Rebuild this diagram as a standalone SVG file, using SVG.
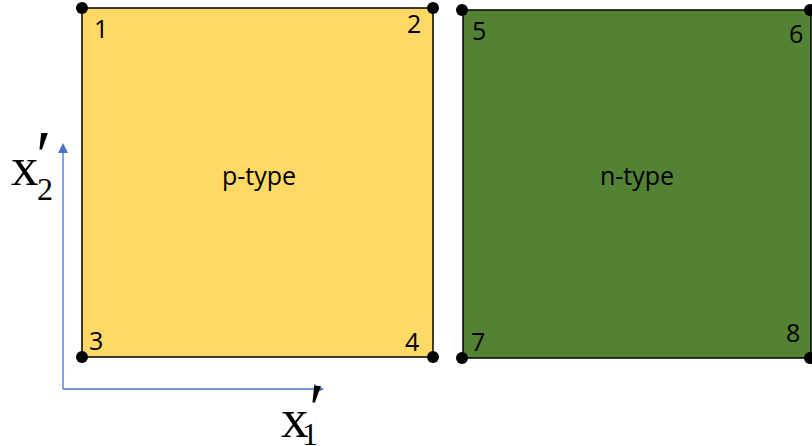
<svg xmlns="http://www.w3.org/2000/svg" width="812" height="446" viewBox="0 0 812 446">
<defs>
<style>
.lbl{font-family:"Open Sans","Liberation Sans",sans-serif;font-size:25px;fill:#000}
.ax{font-family:"Liberation Serif",serif;fill:#000}
.dot{fill:#000}
</style>
<marker id="ah" markerWidth="10" markerHeight="10" refX="8" refY="5" orient="auto" markerUnits="userSpaceOnUse">
<path d="M0,0 L10,5 L0,10 Z" fill="#4472C4"/>
</marker>
</defs>
<rect width="812" height="446" fill="#fff"/>
<g id="ptype">
<rect x="82" y="8" width="351" height="349" fill="#FFD966" stroke="#000" stroke-width="1.5"/>
<text class="lbl" x="259" y="185" text-anchor="middle">p-type</text>
</g>
<g id="ntype">
<rect x="463" y="10" width="348" height="348" fill="#548235" stroke="#000" stroke-width="1.5"/>
<text class="lbl" x="637" y="185" text-anchor="middle">n-type</text>
</g>
<g id="n1"><circle class="dot" cx="82" cy="8" r="6"/><text class="lbl" x="94" y="38">1</text></g>
<g id="n2"><circle class="dot" cx="433" cy="8" r="6"/><text class="lbl" x="407" y="33">2</text></g>
<g id="n3"><circle class="dot" cx="82" cy="357" r="6"/><text class="lbl" x="89" y="350">3</text></g>
<g id="n4"><circle class="dot" cx="433" cy="357" r="6"/><text class="lbl" x="405" y="351">4</text></g>
<g id="n5"><circle class="dot" cx="462" cy="10" r="6"/><text class="lbl" x="472" y="40">5</text></g>
<g id="n6"><circle class="dot" cx="810" cy="10" r="6"/><text class="lbl" x="789" y="43">6</text></g>
<g id="n7"><circle class="dot" cx="462" cy="358" r="6"/><text class="lbl" x="471" y="351">7</text></g>
<g id="n8"><circle class="dot" cx="810" cy="358" r="6"/><text class="lbl" x="786" y="342">8</text></g>
<g id="connectors" fill="none" stroke="#4472C4" stroke-width="1.3">
<path d="M63,389 L63,145" marker-end="url(#ah)"/>
<path d="M63,389 L322,389" marker-end="url(#ah)"/>
</g>
<g id="axis-labels">
<text class="ax" x="11" y="185" font-size="55">x</text>
<text class="ax" x="36" y="179" font-size="70">′</text>
<text class="ax" x="37" y="200" font-size="32">2</text>
<text class="ax" x="281" y="437" font-size="55">x</text>
<text class="ax" x="309" y="432" font-size="70">′</text>
<text class="ax" x="302" y="445" font-size="32">1</text>
</g>
</svg>
